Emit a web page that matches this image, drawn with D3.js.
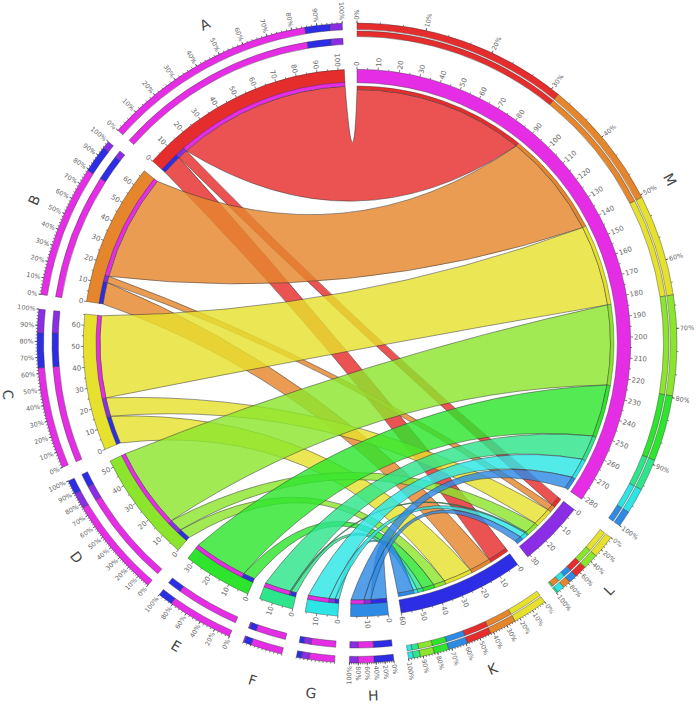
<!DOCTYPE html>
<html lang="en">
<head>
<meta charset="utf-8">
<script src="https://d3js.org/d3.v7.min.js"></script>
<style type="text/css">
  body { margin: 0; background-color: #ffffff; }
  svg { display: block; }
  text { font-family: "DejaVu Sans", sans-serif; }
  .tick-label { font-size: 7px; fill: #666; }
  .pct-label { font-size: 6.4px; fill: #666; }
  .seg-label { font-size: 14px; fill: #444; }
  .ring { stroke: #333; stroke-width: 0.4; }
  .tick { stroke: #222; stroke-width: 0.6; }
  .ribbon { stroke: #333; stroke-width: 0.5; fill-opacity: 0.82; }
</style>
</head>
<body>
<script type="text/javascript">
// rows of the table, then columns, clockwise they run M L K H G F E D C B A
var rows = ["A", "B", "C", "D", "E", "F", "G", "H"];
var cols = ["K", "L", "M"];
var toK = [10.2, 11, 14.3, 5.8, 6, 2.8, 2, 8];
var toL = [5, 3.2, 9.5, 6.5, 0, 0.6, 3.1, 3.5];
var toM = [87.8, 54, 41.5, 41, 27, 13, 10.5, 6.5];

var segOrder = ["M", "L", "K", "H", "G", "F", "E", "D", "C", "B", "A"];
var colors = {
  A: "#e62d2d", B: "#e5862d", C: "#e6e12d", D: "#8ce52d", E: "#2de52d", F: "#2de58a",
  G: "#2de5e5", H: "#2d8ae5", K: "#2d2de5", L: "#8a2de5", M: "#e52de5"
};
// tick spacing of the percent scale per segment; 0 means no labels
var pctLabelStep = { A: 10, B: 10, C: 10, D: 10, E: 20, F: 0, G: 0, H: 20, K: 10, L: 20, M: 10 };
var pctMinorStep = { A: 2, B: 2, C: 2, D: 2, E: 5, F: 10, G: 10, H: 5, K: 2, L: 5, M: 10 / 3 };
// second ring of L is not in value order in the picture
var innerOrderL = ["C", "D", "A", "H", "G", "B", "F"];

var width = 696, height = 705, cx = 357, cy = 343;
var gapDeg = 2.65;
var rMain = [260.3, 273.7];
var rThinRow = [257, 261], rThinCol = [253.5, 257];
var rOuter = [313.4, 320];
var rSecondRow = [298.7, 305], rSecondCol = [306.5, 312];
var rLabel = 353;

var svg = d3.select("body").append("svg")
    .attr("width", width)
    .attr("height", height)
  .append("g")
    .attr("transform", "translate(" + cx + "," + cy + ")");

function value(row, col) {
  var i = rows.indexOf(row);
  return col == "K" ? toK[i] : col == "L" ? toL[i] : toM[i];
}

// links of one segment, in the order of the thin ring
function links(seg) {
  if (rows.indexOf(seg) >= 0)
    return cols.map(function(c) { return { other: c, v: value(seg, c), row: seg, col: c }; });
  return rows.map(function(r) { return { other: r, v: value(r, seg), row: r, col: seg }; });
}

var totals = {};
segOrder.forEach(function(s) { totals[s] = d3.sum(links(s), function(d) { return d.v; }); });
var perUnit = (360 - segOrder.length * gapDeg) / d3.sum(segOrder, function(s) { return totals[s]; });

// a unit scale and a percent scale per segment, both in degrees clockwise from the top
var unitScale = {}, pctScale = {};
var pos = 0;
segOrder.forEach(function(s) {
  unitScale[s] = d3.scaleLinear().domain([0, totals[s]]).range([pos, pos + totals[s] * perUnit]);
  pctScale[s] = d3.scaleLinear().domain([0, 100]).range([pos, pos + totals[s] * perUnit]);
  pos += totals[s] * perUnit + gapDeg;
});

var rad = Math.PI / 180;
var arc = d3.arc();

function drawArc(parent, r, a0, a1, color) {
  parent.append("path")
    .attr("class", "ring")
    .attr("d", arc({ innerRadius: r[0], outerRadius: r[1], startAngle: a0 * rad, endAngle: a1 * rad }))
    .style("fill", color);
}

// stacked bar ring in percent
function drawShares(parent, seg, r, order) {
  var total = totals[seg], sum = 0;
  order.forEach(function(d) {
    var a0 = pctScale[seg](100 * sum / total);
    sum += d.v;
    drawArc(parent, r, a0, pctScale[seg](100 * sum / total), colors[d.other]);
  });
}

function radial(deg, r) {
  return [r * Math.sin(deg * rad), -r * Math.cos(deg * rad)];
}

function drawTick(parent, deg, r0, len, label, cls) {
  var a = radial(deg, r0), b = radial(deg, r0 + len);
  parent.append("line").attr("class", "tick")
    .attr("x1", a[0]).attr("y1", a[1]).attr("x2", b[0]).attr("y2", b[1]);
  if (label === null) return;
  var flip = deg > 180;
  parent.append("text").attr("class", cls)
    .attr("transform", "rotate(" + (deg - 90 + (flip ? 180 : 0)) + ")")
    .attr("x", flip ? -(r0 + len + 0.8) : r0 + len + 0.8)
    .attr("dy", "0.35em")
    .attr("text-anchor", flip ? "end" : "start")
    .text(label);
}

// RIBBONS
var ribbons = svg.append("g");
var spans = {};
segOrder.forEach(function(s) {
  var sum = 0;
  links(s).forEach(function(d) {
    spans[d.row + d.col + (s == d.row ? "r" : "c")] = [unitScale[s](sum), unitScale[s](sum + d.v)];
    sum += d.v;
  });
});

// the wider two ends are apart, the closer the curve runs to the centre
function controlRadius(a, b) {
  var sep = Math.abs(a - b) % 360;
  if (sep > 180) sep = 360 - sep;
  return Math.max(0, Math.min(146, 160 - 0.88 * sep));
}

function controlPoint(a, b) {
  var x = Math.sin(a * rad) + Math.sin(b * rad), y = -Math.cos(a * rad) - Math.cos(b * rad);
  var len = Math.sqrt(x * x + y * y) || 1;
  var r = controlRadius(a, b);
  return [r * x / len, r * y / len];
}

function ribbonPath(s, t, r1, r2) {
  var p = d3.path();
  var s0 = radial(s[0], r1), t0 = radial(t[0], r2), c;
  p.moveTo(s0[0], s0[1]);
  p.arc(0, 0, r1, (s[0] - 90) * rad, (s[1] - 90) * rad);
  c = controlPoint(s[1], t[0]);
  p.quadraticCurveTo(c[0], c[1], t0[0], t0[1]);
  p.arc(0, 0, r2, (t[0] - 90) * rad, (t[1] - 90) * rad);
  c = controlPoint(t[1], s[0]);
  p.quadraticCurveTo(c[0], c[1], s0[0], s0[1]);
  p.closePath();
  return p.toString();
}

rows.forEach(function(r) {
  cols.forEach(function(c) {
    if (value(r, c) == 0) return;
    ribbons.append("path")
      .attr("class", "ribbon")
      .attr("d", ribbonPath(spans[r + c + "r"], spans[r + c + "c"], rThinRow[0], rThinCol[0]))
      .style("fill", colors[r]);
  });
});

// SEGMENTS
segOrder.forEach(function(s) {
  var g = svg.append("g");
  var isRow = rows.indexOf(s) >= 0;
  var a = unitScale[s];
  drawArc(g, rMain, a(0), a(totals[s]), colors[s]);

  // thin ring next to the ribbons
  var sum = 0;
  links(s).forEach(function(d) {
    if (d.v > 0) drawArc(g, isRow ? rThinRow : rThinCol, a(sum), a(sum + d.v), colors[d.other]);
    sum += d.v;
  });

  // percent rings, biggest share first
  var sorted = links(s).filter(function(d) { return d.v > 0; })
    .sort(function(x, y) { return y.v - x.v; });
  drawShares(g, s, rOuter, sorted);
  var second = sorted;
  if (s == "L") second = innerOrderL.map(function(r) { return sorted.filter(function(d) { return d.other == r; })[0]; });
  drawShares(g, s, isRow ? rSecondRow : rSecondCol, second);

  // unit ticks
  d3.range(0, totals[s] + 0.001, 5).forEach(function(u) {
    if (u % 10 == 0) drawTick(g, a(u), rMain[1], 2.5, String(u), "tick-label");
    else drawTick(g, a(u), rMain[1], 1.5, null);
  });

  // percent ticks
  var minor = pctMinorStep[s], lab = pctLabelStep[s];
  d3.range(0, 100 + 0.001, minor).forEach(function(p) {
    drawTick(g, pctScale[s](p), rOuter[1], 1.5, null);
  });
  if (lab > 0) {
    d3.range(0, 100 + 0.001, lab).forEach(function(p) {
      drawTick(g, pctScale[s](p), rOuter[1], 2.5, p + "%", "pct-label");
    });
  }

  // segment label: upper half stands upright, lower half has its top towards the centre
  var mid = (a(0) + a(totals[s])) / 2;
  var c = radial(mid, rLabel);
  var upper = mid < 90 || mid > 270;
  g.append("text").attr("class", "seg-label")
    .attr("transform", "translate(" + c[0] + "," + c[1] + ") rotate(" + (upper ? mid : mid - 180) + ")")
    .attr("text-anchor", "middle")
    .attr("dy", "0.35em")
    .text(s);
});
</script>
</body>
</html>
